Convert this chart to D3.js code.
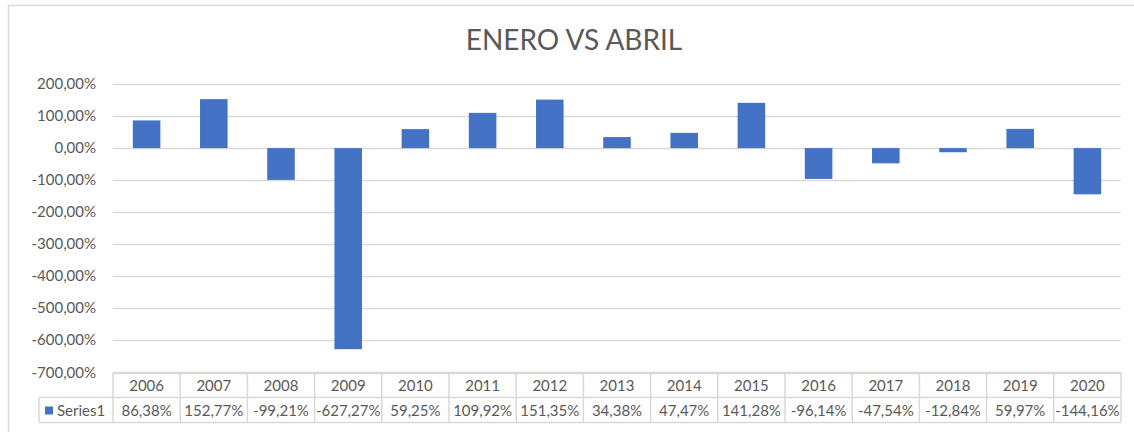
<!DOCTYPE html>
<html>
<head>
<meta charset="utf-8">
<script src="https://cdn.jsdelivr.net/npm/d3@7"></script>
<style>
  body { margin: 0; background: #fff; }
  text { font-family: Lato, 'Open Sans', sans-serif; fill: #595959; }
</style>
</head>
<body>
<div id="app"></div>
<script>
const years = ['2006', '2007', '2008', '2009', '2010', '2011', '2012', '2013', '2014', '2015', '2016', '2017', '2018', '2019', '2020'];
const values = [86.38, 152.77, -99.21, -627.27, 59.25, 109.92, 151.35, 34.38, 47.47, 141.28, -96.14, -47.54, -12.84, 59.97, -144.16];
const yTicks = [200, 100, 0, -100, -200, -300, -400, -500, -600, -700];
const seriesName = 'Series1';

const width = 1134;
const height = 432;
const plot = { left: 113, right: 1121, top: 84, bottom: 372.5 };
const rowHeight = 25;
const legendLeft = 39;
const barColor = '#4472C4';
const gridColor = '#d9d9d9';

// excel style: comma decimal, plain hyphen for negatives
const fmt = (v) => d3.format('.2f')(v).replace('.', ',').replace('\u2212', '-') + '%';

const svg = d3.select('#app').append('svg')
  .attr('width', width)
  .attr('height', height);

// chart frame
svg.append('rect')
  .attr('x', 8.5).attr('y', 5.5)
  .attr('width', width + 10).attr('height', height + 10)
  .attr('fill', '#fff')
  .attr('stroke', gridColor)
  .attr('stroke-width', 1.5);

svg.append('text')
  .attr('x', 574).attr('y', 50)
  .attr('text-anchor', 'middle')
  .style('font-size', '28px')
  .text('ENERO VS ABRIL');

// scales
const x = d3.scaleBand().domain(years).range([plot.left, plot.right]).paddingInner(0.59).paddingOuter(0.295);
const xCol = d3.scaleBand().domain(years).range([plot.left, plot.right]);
const y = d3.scaleLinear().domain([-700, 200]).range([plot.bottom, plot.top]);

// gridlines
svg.append('g').selectAll('line')
  .data(yTicks)
  .join('line')
  .attr('x1', plot.left).attr('x2', plot.right)
  .attr('y1', (d) => Math.round(y(d)) + 0.5)
  .attr('y2', (d) => Math.round(y(d)) + 0.5)
  .attr('stroke', gridColor)
  .attr('stroke-width', 1.5);

// y axis labels
svg.append('g').selectAll('text')
  .data(yTicks)
  .join('text')
  .attr('x', 96)
  .attr('y', (d) => y(d) + 5)
  .attr('text-anchor', 'end')
  .style('font-size', '15px')
  .text(fmt);

// bars
svg.append('g').selectAll('rect')
  .data(values)
  .join('rect')
  .attr('x', (d, i) => x(years[i]))
  .attr('width', x.bandwidth())
  .attr('y', (d) => y(Math.max(0, d)))
  .attr('height', (d) => Math.abs(y(d) - y(0)))
  .attr('fill', barColor);

// data table
const t0 = plot.bottom;
const t1 = t0 + rowHeight;
const t2 = t1 + rowHeight;
const table = svg.append('g')
  .attr('stroke', gridColor)
  .attr('stroke-width', 1.5)
  .attr('fill', 'none');

table.append('line').attr('x1', plot.left).attr('x2', plot.right).attr('y1', t0).attr('y2', t0);
table.append('line').attr('x1', legendLeft).attr('x2', plot.right).attr('y1', t1).attr('y2', t1);
table.append('line').attr('x1', legendLeft).attr('x2', plot.right).attr('y1', t2).attr('y2', t2);
table.append('line').attr('x1', legendLeft).attr('x2', legendLeft).attr('y1', t1).attr('y2', t2);
table.selectAll('.col')
  .data([...years.map((d) => xCol(d)), plot.right])
  .join('line')
  .attr('class', 'col')
  .attr('x1', (d) => d).attr('x2', (d) => d)
  .attr('y1', t0).attr('y2', t2);

svg.append('g').selectAll('text')
  .data(years)
  .join('text')
  .attr('x', (d) => xCol(d) + xCol.bandwidth() / 2)
  .attr('y', t0 + 18)
  .attr('text-anchor', 'middle')
  .style('font-size', '15px')
  .text((d) => d);

svg.append('g').selectAll('text')
  .data(values)
  .join('text')
  .attr('x', (d, i) => xCol(years[i]) + xCol.bandwidth() / 2)
  .attr('y', t1 + 18)
  .attr('text-anchor', 'middle')
  .style('font-size', '15px')
  .text(fmt);

// legend key
svg.append('rect')
  .attr('x', 45).attr('y', t1 + 9)
  .attr('width', 8).attr('height', 8)
  .attr('fill', barColor);
svg.append('text')
  .attr('x', 57).attr('y', t1 + 18)
  .style('font-size', '15px')
  .text(seriesName);
</script>
</body>
</html>
